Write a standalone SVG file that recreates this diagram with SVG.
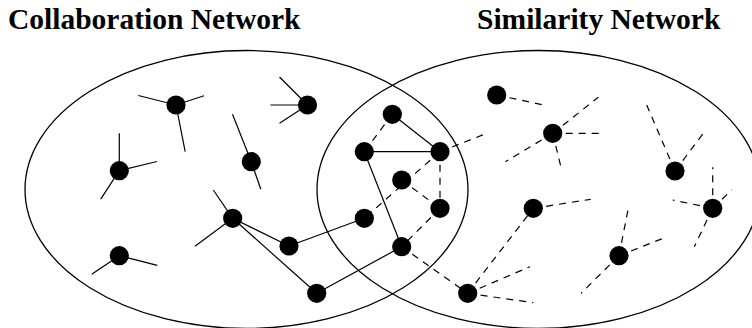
<svg xmlns="http://www.w3.org/2000/svg" width="752" height="328" viewBox="0 0 752 328">
<style>
.t{font-family:"Liberation Serif","Times New Roman",serif;font-weight:bold;font-size:29.5px;fill:#000}
.reg{fill:none;stroke:#000;stroke-width:1.3}
.s{stroke:#000;stroke-width:1.2;fill:none}
.d{stroke:#000;stroke-width:1.2;fill:none;stroke-dasharray:7 6}
.n{fill:#000}
</style>
<rect width="752" height="328" fill="#fff"/>
<text class="t" x="8" y="29">Collaboration Network</text>
<text class="t" x="477" y="29">Similarity Network</text>
<g id="regions">
<ellipse class="reg" cx="246.5" cy="189.5" rx="221.5" ry="139"/>
<ellipse class="reg" cx="538.5" cy="189.5" rx="221.5" ry="139"/>
</g>
<g id="connectors">
<!-- collaboration stubs -->
<line class="s" x1="176" y1="105" x2="138.3" y2="95.5"/>
<line class="s" x1="176" y1="105" x2="204" y2="95.7"/>
<line class="s" x1="176" y1="105" x2="185.2" y2="151.7"/>
<line class="s" x1="307.5" y1="105" x2="279.5" y2="77"/>
<line class="s" x1="307.5" y1="105" x2="270.5" y2="105"/>
<line class="s" x1="307.5" y1="105" x2="279.5" y2="123.3"/>
<line class="s" x1="251.3" y1="161.7" x2="232.5" y2="114.3"/>
<line class="s" x1="251.3" y1="161.7" x2="260.8" y2="189.3"/>
<line class="s" x1="119.3" y1="170.7" x2="119.3" y2="133.3"/>
<line class="s" x1="119.3" y1="170.7" x2="157" y2="161.5"/>
<line class="s" x1="119.3" y1="170.7" x2="100.7" y2="199.2"/>
<line class="s" x1="119.3" y1="255.7" x2="91.7" y2="274.3"/>
<line class="s" x1="119.3" y1="255.7" x2="157.3" y2="265.3"/>
<line class="s" x1="232.7" y1="218.3" x2="213.3" y2="190"/>
<line class="s" x1="232.7" y1="218.3" x2="195" y2="246.3"/>
<!-- collaboration edges -->
<line class="s" x1="232.7" y1="218.3" x2="289" y2="246"/>
<line class="s" x1="232.7" y1="218.3" x2="316.7" y2="293.3"/>
<line class="s" x1="289" y1="246" x2="364.3" y2="218.3"/>
<line class="s" x1="316.7" y1="293.3" x2="401.7" y2="246.7"/>
<line class="s" x1="364.3" y1="151.7" x2="401.7" y2="246.7"/>
<line class="s" x1="364.3" y1="151.7" x2="440" y2="151.7"/>
<line class="s" x1="392.3" y1="114.3" x2="440" y2="151.7"/>
<!-- similarity edges -->
<line class="d" x1="392.3" y1="114.3" x2="364.3" y2="151.7"/>
<line class="d" x1="440" y1="151.7" x2="440" y2="208.3"/>
<line class="d" x1="401.7" y1="180" x2="440" y2="208.3"/>
<line class="d" x1="440" y1="151.7" x2="364.3" y2="218.3"/>
<line class="d" x1="440" y1="151.7" x2="487" y2="133.3"/>
<line class="d" x1="440" y1="208.3" x2="401.7" y2="246.7"/>
<line class="d" x1="401.7" y1="246.7" x2="467.7" y2="293.3"/>
<line class="d" x1="467.7" y1="293.3" x2="533.3" y2="208.3"/>
<line class="d" x1="467.7" y1="293.3" x2="530" y2="266.7"/>
<line class="d" x1="467.7" y1="293.3" x2="533.3" y2="302.7"/>
<line class="d" x1="496.7" y1="95" x2="543.3" y2="105"/>
<line class="d" x1="552.7" y1="133.3" x2="598.3" y2="97.3"/>
<line class="d" x1="552.7" y1="133.3" x2="600" y2="133.3"/>
<line class="d" x1="552.7" y1="133.3" x2="561.7" y2="170"/>
<line class="d" x1="552.7" y1="133.3" x2="505.5" y2="161.7"/>
<line class="d" x1="533.3" y1="208.3" x2="590.7" y2="199.3"/>
<line class="d" x1="675" y1="171" x2="646.7" y2="105"/>
<line class="d" x1="675" y1="171" x2="703.3" y2="133.3"/>
<line class="d" x1="712.7" y1="208.3" x2="712.7" y2="167.3"/>
<line class="d" x1="712.7" y1="208.3" x2="731.7" y2="190"/>
<line class="d" x1="712.7" y1="208.3" x2="672.7" y2="200"/>
<line class="d" x1="712.7" y1="208.3" x2="694.3" y2="246.7"/>
<line class="d" x1="619" y1="255.7" x2="628.3" y2="208.3"/>
<line class="d" x1="619" y1="255.7" x2="665.7" y2="237.3"/>
<line class="d" x1="619" y1="255.7" x2="581" y2="293.3"/>
</g>
<g id="nA"><circle class="n" cx="176" cy="105" r="9.6"/></g>
<g id="nB"><circle class="n" cx="307.5" cy="105" r="9.6"/></g>
<g id="nC"><circle class="n" cx="251.3" cy="161.7" r="9.6"/></g>
<g id="nD"><circle class="n" cx="119.3" cy="170.7" r="9.6"/></g>
<g id="nE"><circle class="n" cx="232.7" cy="218.3" r="9.6"/></g>
<g id="nF"><circle class="n" cx="289" cy="246" r="9.6"/></g>
<g id="nG"><circle class="n" cx="316.7" cy="293.3" r="9.6"/></g>
<g id="nH"><circle class="n" cx="119.3" cy="255.7" r="9.6"/></g>
<g id="nI"><circle class="n" cx="364.3" cy="218.3" r="9.6"/></g>
<g id="nJ"><circle class="n" cx="401.7" cy="246.7" r="9.6"/></g>
<g id="nK"><circle class="n" cx="392.3" cy="114.3" r="9.6"/></g>
<g id="nL"><circle class="n" cx="364.3" cy="151.7" r="9.6"/></g>
<g id="nM"><circle class="n" cx="440" cy="151.7" r="9.6"/></g>
<g id="nN"><circle class="n" cx="401.7" cy="180" r="9.6"/></g>
<g id="nO"><circle class="n" cx="440" cy="208.3" r="9.6"/></g>
<g id="nP"><circle class="n" cx="467.7" cy="293.3" r="9.6"/></g>
<g id="nQ"><circle class="n" cx="533.3" cy="208.3" r="9.6"/></g>
<g id="nR"><circle class="n" cx="496.7" cy="95" r="9.6"/></g>
<g id="nS"><circle class="n" cx="552.7" cy="133.3" r="9.6"/></g>
<g id="nT"><circle class="n" cx="675" cy="171" r="9.6"/></g>
<g id="nU"><circle class="n" cx="712.7" cy="208.3" r="9.6"/></g>
<g id="nV"><circle class="n" cx="619" cy="255.7" r="9.6"/></g>
</svg>
